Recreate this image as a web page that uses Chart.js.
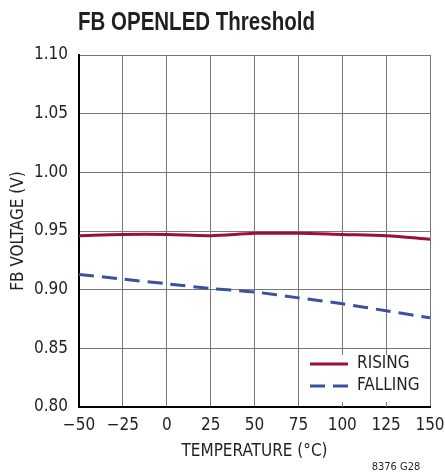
<!DOCTYPE html>
<html>
<head>
<meta charset="utf-8">
<script src="https://cdn.jsdelivr.net/npm/chart.js@4.4.0/dist/chart.umd.min.js"></script>
<style>
  html, body { margin: 0; padding: 0; background: #fff; }
  #wrap { width: 445px; height: 474px; position: relative; }
</style>
</head>
<body>
<div id="wrap"><canvas id="chart" width="445" height="474"></canvas></div>
<script>
const temps = [-50, -25, 0, 25, 50, 75, 100, 125, 150];
const rising = [0.946, 0.947, 0.947, 0.946, 0.948, 0.948, 0.947, 0.946, 0.943];
const falling = [0.913, 0.909, 0.905, 0.901, 0.898, 0.893, 0.888, 0.882, 0.876];
const xTicks = [-50, -25, 0, 25, 50, 75, 100, 125, 150];
const yTicks = [0.80, 0.85, 0.90, 0.95, 1.00, 1.05, 1.10];

const FONT = '"DejaVu Sans Condensed", "Liberation Sans", sans-serif';
const INK = '#231f20';

function pts(ys) {
  return temps.map((t, i) => ({ x: t, y: ys[i] }));
}

// title, legend box and figure number
const extras = {
  id: 'extras',
  afterDatasetsDraw(chart) {
    const ctx = chart.ctx;
    const ca = chart.chartArea;
    const xs = chart.scales.x;
    ctx.save();
    // legend box covering the grid
    const bx = xs.getPixelForValue(75) + 1, by = 350;
    ctx.fillStyle = '#fff';
    ctx.fillRect(bx, by, ca.right - bx - 1, ca.bottom - by - 1);
    ctx.strokeStyle = '#777';
    ctx.lineWidth = 1;
    [100, 125].forEach(v => {
      const px = Math.round(xs.getPixelForValue(v)) + 0.5;
      ctx.beginPath();
      ctx.moveTo(px, by); ctx.lineTo(px, by + 5);
      ctx.moveTo(px, ca.bottom); ctx.lineTo(px, ca.bottom - 5);
      ctx.stroke();
    });
    const rows = [364, 386];
    chart.data.datasets.forEach((ds, i) => {
      ctx.strokeStyle = ds.borderColor;
      ctx.lineWidth = ds.borderWidth;
      ctx.setLineDash(ds.borderDash || []);
      ctx.beginPath();
      ctx.moveTo(310, rows[i]);
      ctx.lineTo(348, rows[i]);
      ctx.stroke();
      ctx.setLineDash([]);
      ctx.fillStyle = INK;
      ctx.font = '17px ' + FONT;
      ctx.textBaseline = 'middle';
      ctx.textAlign = 'left';
      ctx.fillText(ds.label, 357, rows[i]);
    });
    // title, drawn narrow like the original condensed face
    ctx.fillStyle = INK;
    ctx.font = 'bold 25px "Liberation Sans", sans-serif';
    ctx.textBaseline = 'alphabetic';
    ctx.translate(78, 30);
    ctx.scale(0.82, 1);
    ctx.fillText('FB OPENLED Threshold', 0, 0);
    ctx.setTransform(1, 0, 0, 1, 0, 0);
    // figure number
    ctx.font = '11px ' + FONT;
    ctx.textAlign = 'center';
    ctx.fillText('8376 G28', 396, 470);
    ctx.restore();
  }
};

new Chart(document.getElementById('chart'), {
  type: 'line',
  data: {
    datasets: [{
      label: 'RISING',
      data: pts(rising),
      borderColor: '#9b1035',
      borderWidth: 3,
      pointRadius: 0,
      tension: 0.3
    }, {
      label: 'FALLING',
      data: pts(falling),
      borderColor: '#3c50a0',
      borderWidth: 3,
      borderDash: [15, 8],
      pointRadius: 0,
      tension: 0.3
    }]
  },
  options: {
    responsive: false,
    animation: false,
    layout: { padding: { top: 55, right: 0, left: 4, bottom: 8 } },
    plugins: { legend: { display: false }, title: { display: false }, tooltip: { enabled: false } },
    scales: {
      x: {
        type: 'linear',
        min: -50, max: 150,
        afterBuildTicks: s => { s.ticks = xTicks.map(v => ({ value: v })); },
        afterFit: s => { s.height = 59; s.paddingRight = 15; s.paddingLeft = 0; },
        ticks: {
          color: INK,
          font: { family: FONT, size: 17 },
          padding: 8,
          maxRotation: 0,
          callback: v => String(v).replace('-', '\u2212')
        },
        grid: { color: '#777', lineWidth: 1, drawTicks: false },
        border: { color: '#000', width: 2 },
        title: {
          display: true,
          text: 'TEMPERATURE (°C)',
          color: INK,
          font: { family: FONT, size: 17 },
          padding: { top: 6 }
        }
      },
      y: {
        min: 0.80, max: 1.10,
        afterBuildTicks: s => { s.ticks = yTicks.map(v => ({ value: v })); },
        afterFit: s => { s.width = 75; },
        ticks: {
          color: INK,
          font: { family: FONT, size: 17 },
          padding: 11,
          callback: v => v.toFixed(2)
        },
        grid: { color: '#777', lineWidth: 1, drawTicks: false },
        border: { color: '#000', width: 2 },
        title: {
          display: true,
          text: 'FB VOLTAGE (V)',
          color: INK,
          font: { family: FONT, size: 17 },
          padding: { bottom: 2 }
        }
      }
    }
  },
  plugins: [extras]
});
</script>
</body>
</html>
